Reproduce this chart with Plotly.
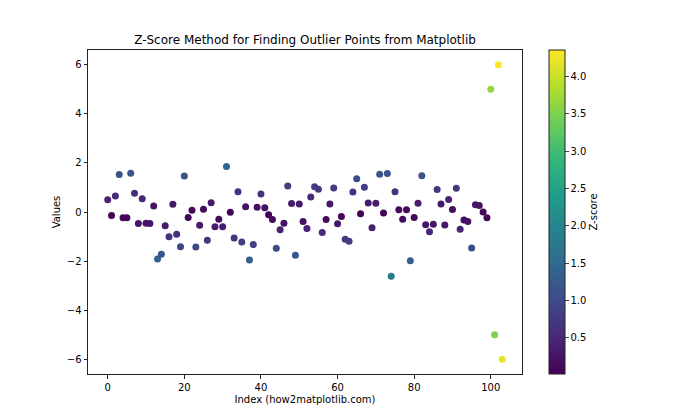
import numpy as np
import plotly.graph_objects as go

values = [0.497, -0.138, 0.648, 1.523, -0.234, -0.234, 1.579, 0.767, -0.470, 0.543,
          -0.463, -0.466, 0.242, -1.913, -1.725, -0.562, -1.013, 0.314, -0.908, -1.412,
          1.466, -0.226, 0.068, -1.425, -0.544, 0.111, -1.151, 0.376, -0.601, -0.292,
          -0.602, 1.852, -0.013, -1.058, 0.823, -1.221, 0.209, -1.960, -1.328, 0.197,
          0.738, 0.171, -0.116, -0.301, -1.479, -0.720, -0.461, 1.057, 0.344, -1.763,
          0.324, -0.385, -0.677, 0.612, 1.031, 0.931, -0.839, -0.309, 0.331, 0.976,
          -0.479, -0.186, -1.106, -1.196, 0.813, 1.356, -0.072, 1.004, 0.362, -0.645,
          0.361, 1.538, -0.036, 1.565, -2.620, 0.822, 0.087, -0.299, 0.092, -1.988,
          -0.220, 0.357, 1.478, -0.518, -0.809, -0.502, 0.915, 0.329, -0.530, 0.513,
          0.097, 0.969, -0.702, -0.328, -0.392, -1.464, 0.296, 0.261, 0.005, -0.235,
          5.0, -5.0, 6.0, -6.0]
x_ticks = [0, 20, 40, 60, 80, 100]
y_ticks = [-6, -4, -2, 0, 2, 4, 6]
cb_ticks = [0.5, 1.0, 1.5, 2.0, 2.5, 3.0, 3.5, 4.0]

y = np.array(values)
idx = np.arange(len(y))
z = np.abs((y - y.mean()) / y.std())

L, R, T, B = 88, 522, 50, 374

fig = go.Figure(go.Scatter(
    x=idx, y=y, mode="markers",
    marker=dict(size=7, color=z, colorscale="Viridis", line=dict(width=0),
                colorbar=dict(
                    title=dict(text="Z-score", side="right", font=dict(size=10)),
                    x=(549 - L) / (R - L), xanchor="left", y=0.5, yanchor="middle",
                    len=1.0, lenmode="fraction", thickness=16, ypad=0, xpad=0,
                    outlinewidth=1, outlinecolor="#222",
                    tickvals=cb_ticks, ticktext=[f"{t:.1f}" for t in cb_ticks],
                    ticks="outside", ticklen=3.5, tickfont=dict(size=10))),
    showlegend=False))

axis_common = dict(showline=True, linecolor="#222", linewidth=1, mirror=True,
                   ticks="outside", ticklen=3.5, tickcolor="#222",
                   showgrid=False, zeroline=False, tickfont=dict(size=10))

fig.update_layout(
    width=700, height=420,
    margin=dict(l=L, r=700 - R, t=T, b=420 - B),
    paper_bgcolor="white", plot_bgcolor="white",
    font=dict(family="DejaVu Sans", color="black", size=10),
    title=dict(text="Z-Score Method for Finding Outlier Points from Matplotlib",
               x=(L + R) / 2 / 700, xanchor="center", y=1 - 40 / 420, yanchor="middle",
               font=dict(size=12)),
    xaxis=dict(range=[-5.15, 108.15], tickvals=x_ticks,
               title=dict(text="Index (how2matplotlib.com)", standoff=4, font=dict(size=10)),
               **axis_common),
    yaxis=dict(range=[-6.6, 6.6], tickvals=y_ticks,
               title=dict(text="Values", standoff=4, font=dict(size=10)), **axis_common),
)

fig.write_html("out.html")
